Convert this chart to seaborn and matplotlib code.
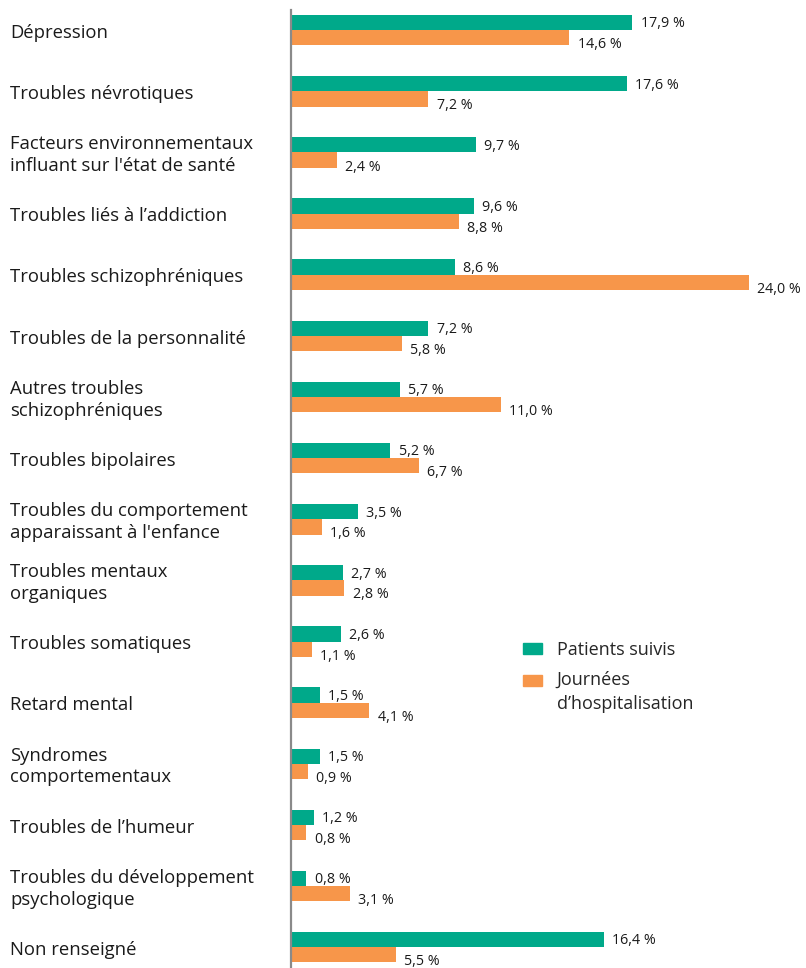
import pandas as pd
import matplotlib.pyplot as plt
import seaborn as sns
from matplotlib.patches import Patch
from matplotlib.legend_handler import HandlerPatch
from matplotlib.transforms import blended_transform_factory

# données
categories = [
    "Dépression",
    "Troubles névrotiques",
    "Facteurs environnementaux\ninfluant sur l'état de santé",
    "Troubles liés à l’addiction",
    "Troubles schizophréniques",
    "Troubles de la personnalité",
    "Autres troubles\nschizophréniques",
    "Troubles bipolaires",
    "Troubles du comportement\napparaissant à l'enfance",
    "Troubles mentaux\norganiques",
    "Troubles somatiques",
    "Retard mental",
    "Syndromes\ncomportementaux",
    "Troubles de l’humeur",
    "Troubles du développement\npsychologique",
    "Non renseigné",
]
patients = [17.9, 17.6, 9.7, 9.6, 8.6, 7.2, 5.7, 5.2, 3.5, 2.7, 2.6, 1.5, 1.5, 1.2, 0.8, 16.4]
journees = [14.6, 7.2, 2.4, 8.8, 24.0, 5.8, 11.0, 6.7, 1.6, 2.8, 1.1, 4.1, 0.9, 0.8, 3.1, 5.5]
series = ["Patients suivis", "Journées\nd’hospitalisation"]
colors = ["#00A98A", "#F7964A"]

df = pd.DataFrame({
    "cat": categories * 2,
    "val": patients + journees,
    "serie": [series[0]] * len(categories) + [series[1]] * len(categories),
})

sns.set_style("white")
plt.rcParams['font.family'] = ['Open Sans', 'DejaVu Sans']

fig = plt.figure(figsize=(8.06, 9.68), dpi=100)
ax = fig.add_axes([291 / 806, 0, 1 - 291 / 806, 1 - 10 / 968])

sns.barplot(data=df, y="cat", x="val", hue="serie", palette=colors,
            orient="h", width=0.5, linewidth=0, saturation=1,
            legend=False, ax=ax)

ax.set_xlim(0, 27)
ax.set_ylim(15.34, -0.33)
ax.set_xlabel("")
ax.set_ylabel("")
ax.set_xticks([])
ax.set_yticks([])
for s in ["top", "right", "bottom"]:
    ax.spines[s].set_visible(False)
ax.spines["left"].set_color("#8a8a8a")
ax.spines["left"].set_linewidth(1.6)

# étiquettes de catégories
tr = blended_transform_factory(fig.transFigure, ax.transData)
for i, c in enumerate(categories):
    ax.annotate(c, (10 / 806, i), xycoords=tr, xytext=(0, -2),
                textcoords="offset points", ha="left", va="center",
                fontsize=13.3, color="#1a1a1a", linespacing=1.25,
                annotation_clip=False)

# valeurs
for k, cont in enumerate(ax.containers):
    for rect in cont:
        w = rect.get_width()
        y = rect.get_y() + rect.get_height() / 2
        txt = f"{w:.1f}".replace(".", ",") + " %"
        ax.annotate(txt, (w, y), xytext=(6, -1 if k == 0 else -5),
                    textcoords="offset points", ha="left", va="center",
                    fontsize=10.3, color="#1a1a1a")


# carré aligné sur la première ligne du texte
class TopHandler(HandlerPatch):
    def create_artists(self, legend, orig_handle, xdescent, ydescent,
                       width, height, fontsize, trans):
        arts = super().create_artists(legend, orig_handle, xdescent, ydescent,
                                      width, height, fontsize, trans)
        if "\n" in orig_handle.get_label():
            for a in arts:
                a.set_y(a.get_y() + fontsize * 0.68)
        return arts


handles = [Patch(color=colors[0], label=series[0]),
           Patch(color=colors[1], label=series[1])]
leg = fig.legend(handles=handles, loc="upper left", bbox_to_anchor=(516 / 806, 1 - 634 / 968),
                 frameon=False, fontsize=13, handlelength=1.05, handleheight=0.55,
                 handletextpad=0.8, labelspacing=0.66, borderaxespad=0,
                 handler_map={Patch: TopHandler()})
for t in leg.get_texts():
    t.set_linespacing(1.4)

fig.savefig("out.png", dpi=100)
